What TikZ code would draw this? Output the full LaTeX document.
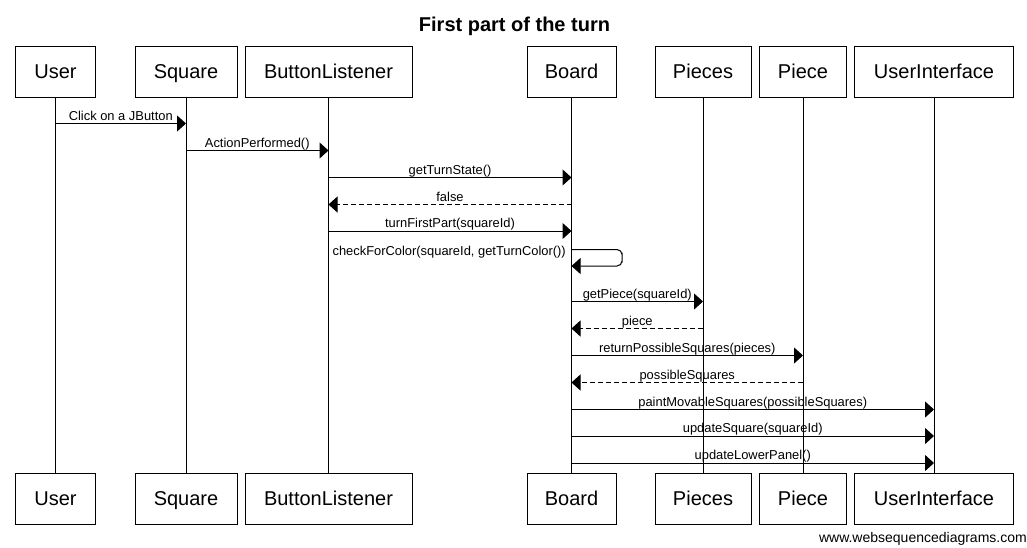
\documentclass[tikz,border=0pt]{standalone}
\usepackage{fontspec}
\setmainfont{Liberation Sans}
\usetikzlibrary{arrows.meta}
\begin{document}
\begin{tikzpicture}[x=1pt,y=-1pt,
  actor/.style={draw,line width=1pt,minimum height=51pt,inner sep=0pt,text height=17.6pt,text depth=4pt,font=\fontsize{20}{24}\selectfont},
  life/.style={line width=1pt},
  msg/.style={line width=1pt,-{Triangle[length=9pt,width=16pt]}},
  ret/.style={msg,dash pattern=on 5pt off 3pt},
  lbl/.style={font=\fontsize{12.9}{15}\selectfont,inner sep=0pt,anchor=base,yshift=3.3pt}]
\useasboundingbox (0,0) rectangle (1027,547);
\node[font=\bfseries\fontsize{20}{24}\selectfont,anchor=base,inner sep=0pt] (title) at (514.5,31.5) {First part of the turn};
% top actors
\node[actor,minimum width=80pt]  (uT)  at (55.5,71.5)  {User};
\node[actor,minimum width=102pt] (sT)  at (186,71.5)   {Square};
\node[actor,minimum width=167pt] (bT)  at (328.5,71.5) {ButtonListener};
\node[actor,minimum width=89pt]  (boT) at (571.5,71.5) {Board};
\node[actor,minimum width=96pt]  (psT) at (703,71.5)   {Pieces};
\node[actor,minimum width=87pt]  (pT)  at (803,71.5)   {Piece};
\node[actor,minimum width=159pt] (uiT) at (934,71.5)   {UserInterface};
% bottom actors
\node[actor,minimum width=80pt]  (uB)  at (55.5,498.5)  {User};
\node[actor,minimum width=102pt] (sB)  at (186,498.5)   {Square};
\node[actor,minimum width=167pt] (bB)  at (328.5,498.5) {ButtonListener};
\node[actor,minimum width=89pt]  (boB) at (571.5,498.5) {Board};
\node[actor,minimum width=96pt]  (psB) at (703,498.5)   {Pieces};
\node[actor,minimum width=87pt]  (pB)  at (803,498.5)   {Piece};
\node[actor,minimum width=159pt] (uiB) at (934,498.5)   {UserInterface};
% lifelines
\foreach \a in {u,s,b,bo,ps,p,ui}{\draw[life] (\a T.south) -- (\a B.north);}
% messages
\draw[msg] (uT.south |- 0,123.5) -- node[lbl] {Click on a JButton} (sT.south |- 0,123.5);
\draw[msg] (sT.south |- 0,150.5) -- node[lbl] {ActionPerformed()} (bT.south |- 0,150.5);
\draw[msg] (bT.south |- 0,177.5) -- node[lbl] {getTurnState()} (boT.south |- 0,177.5);
\draw[ret] (boT.south |- 0,204.5) -- node[lbl] {false} (bT.south |- 0,204.5);
\draw[msg] (bT.south |- 0,231) -- node[lbl] {turnFirstPart(squareId)} (boT.south |- 0,231);
\coordinate (loopR) at (622,257.5);
\draw[msg,rounded corners=5pt] (boT.south |- 0,249.5) -| (loopR) |- (boT.south |- 0,266);
\node[font=\fontsize{12.9}{15}\selectfont,inner sep=0pt,anchor=base east] (cfc) at (566,255) {checkForColor(squareId, getTurnColor())};
\draw[msg] (boT.south |- 0,301.5) -- node[lbl] {getPiece(squareId)} (psT.south |- 0,301.5);
\draw[ret] (psT.south |- 0,328.5) -- node[lbl] {piece} (boT.south |- 0,328.5);
\draw[msg] (boT.south |- 0,355.5) -- node[lbl] {returnPossibleSquares(pieces)} (pT.south |- 0,355.5);
\draw[ret] (pT.south |- 0,382.5) -- node[lbl] {possibleSquares} (boT.south |- 0,382.5);
\draw[msg] (boT.south |- 0,409.5) -- node[lbl] {paintMovableSquares(possibleSquares)} (uiT.south |- 0,409.5);
\draw[msg] (boT.south |- 0,436) -- node[lbl] {updateSquare(squareId)} (uiT.south |- 0,436);
\draw[msg] (boT.south |- 0,463) -- node[lbl] {updateLowerPanel()} (uiT.south |- 0,463);
\node[font=\fontsize{14}{16}\selectfont,anchor=base east,inner sep=0pt] (wm) at (1027,542) {www.websequencediagrams.com};
\end{tikzpicture}
\end{document}
